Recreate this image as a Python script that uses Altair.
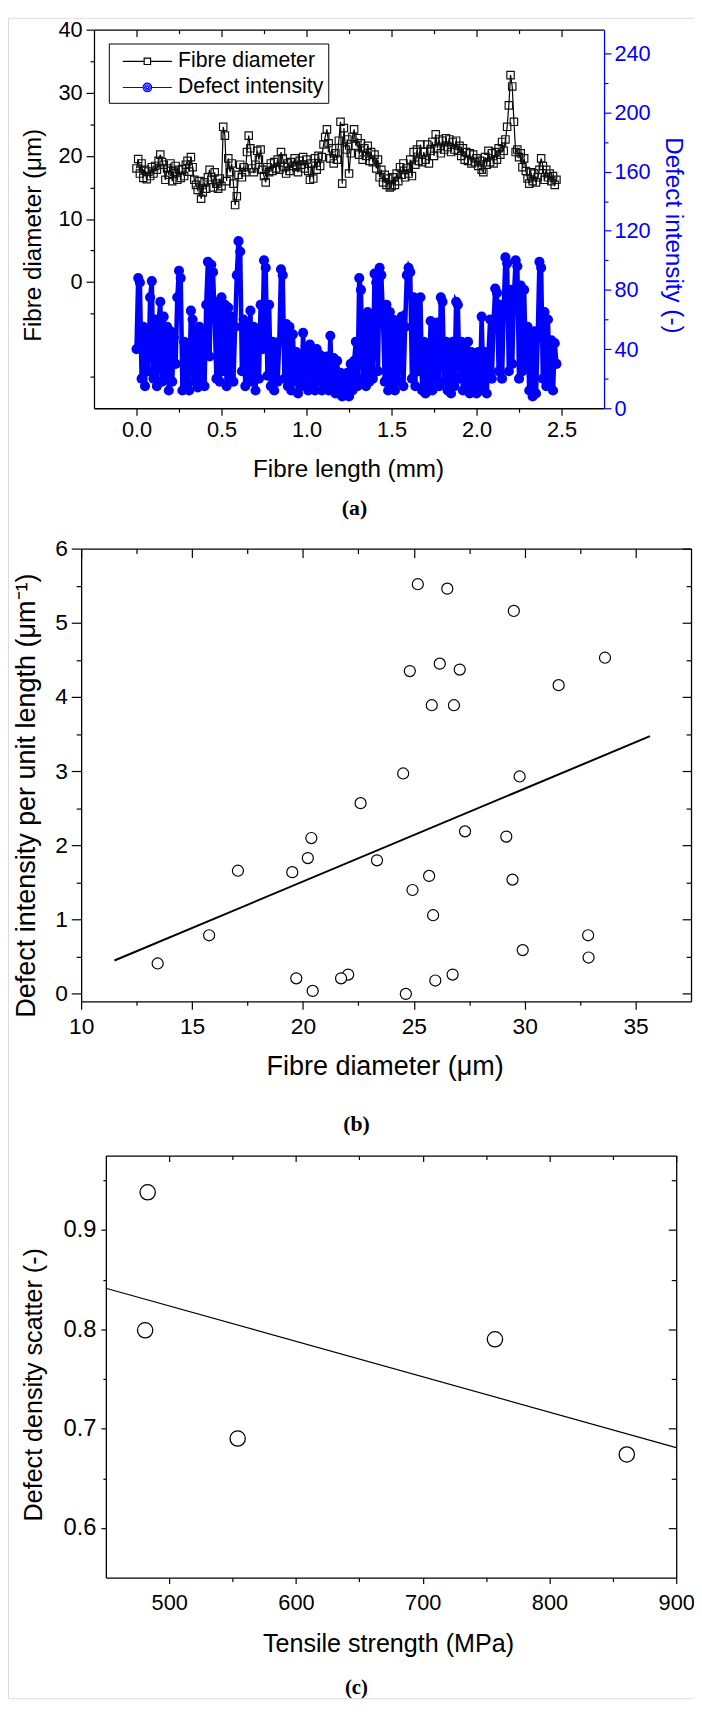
import altair as alt
import pandas as pd

FONT = "Liberation Sans, Arial, Helvetica, sans-serif"
SERIF = "Liberation Serif, Times New Roman, serif"
BLUE = "#0000ff"

# ---------------- panel (a): values sampled every 0.01 mm ----------------
diameter_um = [
    18.0, 19.5, 17.2, 18.8, 16.5, 17.8, 16.3, 17.5, 16.8, 18.2,
    17.2, 18.4, 17.8, 19.2, 20.2, 19.0, 18.6, 16.2, 18.0, 17.0,
    18.8, 16.0, 17.5, 18.4, 16.2, 17.8, 16.5, 17.9, 16.8, 18.6,
    19.2, 17.5, 19.8, 18.2, 16.2, 15.4, 14.6, 16.0, 13.2, 14.2,
    15.8, 14.8, 16.6, 17.8, 16.2, 15.0, 17.4, 15.6, 14.8, 16.4,
    15.2, 24.6, 23.2, 16.0, 19.6, 17.4, 18.8, 15.6, 12.2, 13.6,
    17.0, 18.6, 16.6, 18.2, 17.4, 20.6, 23.2, 21.2, 18.0, 17.4,
    18.6, 20.8, 19.4, 21.0, 17.8, 16.8, 15.8, 18.2, 17.4, 18.8,
    17.6, 19.0, 18.0, 19.4, 17.8, 20.6, 19.6, 18.2, 17.2, 18.8,
    17.6, 19.0, 18.4, 19.6, 18.2, 17.4, 19.2, 18.6, 19.8, 18.0,
    19.4, 17.6, 16.2, 18.8, 16.4, 19.6, 17.8, 20.0, 18.4, 19.8,
    21.8, 23.0, 24.2, 22.0, 19.6, 21.2, 18.8, 20.4, 19.4, 22.4,
    25.4, 15.6, 24.4, 21.0, 22.6, 17.2, 20.4, 23.0, 24.2, 21.6,
    22.8, 20.2, 22.0, 19.4, 21.2, 20.0, 21.6, 19.2, 20.6, 19.0,
    20.2, 18.0, 19.4, 16.6, 17.8, 15.8, 17.0, 15.4, 16.4, 15.0,
    15.2, 16.6, 15.4, 17.2, 16.0, 18.2, 17.0, 18.8, 16.6, 18.0,
    17.2, 19.4, 16.8, 20.6, 18.6, 21.0, 19.2, 21.8, 19.0, 20.6,
    19.4, 21.8, 18.8, 20.8, 22.2, 20.0, 23.4, 21.2, 22.6, 20.4,
    22.4, 21.0, 22.8, 21.4, 22.6, 20.6, 22.2, 21.0, 22.4, 20.8,
    21.6, 20.0, 21.2, 19.4, 20.6, 19.2, 20.4, 18.8, 20.2, 19.0,
    19.6, 18.4, 19.2, 17.8, 17.4, 19.8, 18.6, 20.8, 19.0, 20.4,
    18.8, 20.6, 19.4, 21.2, 20.2, 22.2, 20.8, 22.6, 24.6, 28.0,
    32.8, 31.0, 25.4, 20.6, 21.0, 19.8, 20.4, 18.2, 19.6, 17.6,
    16.4, 15.6, 17.4, 16.0, 17.2, 15.8, 16.6, 17.8, 19.6, 18.4,
    16.2, 17.8, 16.6, 17.2, 16.0, 16.8, 15.4, 16.2,
]
defect_intensity = [
    40, 88, 85, 20, 55, 15, 50, 25, 75, 86,
    20, 60, 15, 58, 72, 18, 62, 22, 55, 12,
    52, 18, 48, 30, 75, 93, 88, 12, 45, 15,
    42, 12, 66, 60, 18, 52, 14, 55, 20, 50,
    15, 70, 99, 35, 97, 92, 60, 20, 72, 18,
    75, 25, 70, 15, 68, 22, 62, 18, 55, 90,
    113, 106, 25, 60, 15, 58, 20, 66, 18, 55,
    12, 52, 20, 70, 40, 100, 95, 22, 70, 15,
    45, 12, 42, 18, 45, 94, 90, 20, 57, 15,
    55, 12, 50, 18, 38, 10, 35, 15, 51, 20,
    40, 12, 43, 15, 38, 12, 40, 18, 36, 12,
    34, 15, 35, 12, 49, 15, 34, 10, 32, 12,
    24, 8, 22, 10, 24, 8, 30, 12, 32, 45,
    15, 88, 80, 20, 62, 15, 65, 18, 60, 20,
    91, 85, 25, 95, 90, 60, 18, 70, 12, 65,
    15, 60, 12, 58, 18, 60, 62, 15, 55, 90,
    95, 92, 20, 75, 15, 72, 25, 75, 12, 45,
    10, 42, 15, 59, 12, 55, 20, 58, 15, 75,
    72, 18, 45, 12, 42, 10, 45, 15, 72, 70,
    20, 45, 12, 42, 15, 45, 10, 38, 15, 36,
    10, 38, 12, 62, 15, 38, 10, 36, 60, 20,
    58, 81, 78, 25, 70, 20, 68, 102, 98, 25,
    80, 30, 76, 100, 96, 20, 83, 25, 80, 30,
    55, 12, 50, 8, 52, 10, 48, 99, 95, 20,
    65, 15, 60, 18, 46, 12, 44, 30,
]
length_mm = [round(i * 0.01, 2) for i in range(len(diameter_um))]
series_names = ["Fibre diameter", "Defect intensity"]

a_x_major = [0.0, 0.5, 1.0, 1.5, 2.0, 2.5]
a_x_minor = [0.25, 0.75, 1.25, 1.75, 2.25]
a_yl_major = [0, 10, 20, 30, 40]
a_yl_minor = [-15, -5, 5, 15, 25, 35]
a_yr_major = [0, 40, 80, 120, 160, 200, 240]
a_yr_minor = [20, 60, 100, 140, 180, 220]

# ---------------- panel (b) ----------------
fibre_diameter_b = [25.18, 26.51, 29.51, 33.62, 26.17, 24.82, 27.07, 31.53, 25.81, 26.81,
                    24.52, 29.77, 22.60, 20.38, 27.31, 29.17, 20.22, 23.34, 17.07, 19.52,
                    25.69, 29.45, 24.94, 25.87, 15.77, 32.86, 29.91, 32.88, 13.45, 19.70,
                    22.04, 21.72, 20.44, 24.64, 25.97, 26.75]
defect_per_length = [5.52, 5.46, 5.16, 4.53, 4.45, 4.35, 4.37, 4.16, 3.89, 3.89,
                     2.97, 2.93, 2.57, 2.10, 2.19, 2.12, 1.83, 1.80, 1.66, 1.64,
                     1.59, 1.54, 1.40, 1.06, 0.79, 0.79, 0.59, 0.49, 0.41, 0.21,
                     0.26, 0.21, 0.04, 0.00, 0.18, 0.26]
b_fit_extent = [11.5, 35.65]
b_x_major = [10, 15, 20, 25, 30, 35]
b_x_minor = [12.5, 17.5, 22.5, 27.5, 32.5]
b_y_major = [0, 1, 2, 3, 4, 5, 6]
b_y_minor = [0.5, 1.5, 2.5, 3.5, 4.5, 5.5]

# ---------------- panel (c) ----------------
tensile_strength = [483, 481, 554, 757, 861]
defect_scatter = [0.938, 0.799, 0.690, 0.790, 0.674]
c_fit_extent = [450, 900]
c_x_major = [500, 600, 700, 800, 900]
c_x_minor = [550, 650, 750, 850]
c_y_major = [0.6, 0.7, 0.8, 0.9]
c_y_minor = [0.65, 0.75, 0.85, 0.95]

# ---------------- layout (one canvas, pixel frames of the three panels) ----------------
CW, CH = 694, 1700
A = dict(L=87, R=603, T=12, B=395)
B = dict(L=74, R=691, T=537, B=995)
C = dict(L=99, R=676, T=1151, B=1578)


def axis(orient, values, size, color="black", domain=False, labels=False, fmt=None,
         label_size=20, label_pad=4, title=None, title_size=22, title_x=None, title_y=None,
         title_angle=None, title_font=FONT, title_weight="normal", offset=None):
    kw = dict(orient=orient, values=values, ticks=size > 0, tickSize=size, tickColor=color,
              tickWidth=1.2, domain=domain, domainColor=color, domainWidth=1.3, grid=False,
              labels=labels, labelColor=color, labelFont=FONT, labelFontSize=label_size,
              labelPadding=label_pad, labelFlush=False, labelOverlap=False,
              title=title, titleColor=color, titleFont=title_font, titleFontSize=title_size,
              titleFontWeight=title_weight, titleAlign="center", titleBaseline="middle")
    if fmt is not None:
        kw["format"] = fmt
    if title_x is not None:
        kw["titleX"] = title_x
    if title_y is not None:
        kw["titleY"] = title_y
    if title_angle is not None:
        kw["titleAngle"] = title_angle
    if offset is not None:
        kw["offset"] = offset
    return alt.Axis(**kw)


def bottom(p):
    return p["B"] - CH


def top(p):
    return p["T"] - CH


def caption(text, p, cx, cy, size=22):
    return axis("bottom", [], 0, title=text, title_x=cx, title_y=cy - p["B"], title_angle=0,
                title_font=SERIF, title_weight="bold", title_size=size, offset=bottom(p))


def sc(dom, rng):
    return alt.Scale(domain=dom, range=rng, nice=False, zero=False)


# ======================= panel (a) =======================
df_a = pd.DataFrame({"length": length_mm, "diameter": diameter_um, "intensity": defect_intensity})


def XA(ax):
    return alt.X("length:Q", scale=sc([-0.25, 2.75], [A["L"], A["R"]]), axis=ax)


def YL(ax):
    return alt.Y("diameter:Q", scale=sc([-20, 40], [A["B"], A["T"]]), axis=ax)


def YR(ax):
    return alt.Y("intensity:Q", scale=sc([0, 256], [A["B"], A["T"]]), axis=ax)


base_a = alt.Chart(df_a)
a_layers = [
    base_a.mark_line(color="black", strokeWidth=1.2).encode(
        x=XA(axis("bottom", a_x_major, 7, domain=True, labels=True, fmt=".1f", label_size=22,
                  label_pad=5, title="Fibre length (mm)", title_size=24.5,
                  title_x=344, title_y=62, offset=bottom(A))),
        y=YL(axis("left", a_yl_major, 8, domain=True, labels=True, fmt="d", label_size=22,
                  label_pad=4, title="Fibre diameter (μm)", title_size=24.5,
                  title_x=25.5 - A["L"], title_y=219.6, offset=-A["L"]))),
    base_a.mark_point(shape="square", filled=False, color="#111111", size=56, strokeWidth=1.2,
                      opacity=1).encode(
        x=XA(caption("(a)", A, 350, 495)), y=YL(None)),
    base_a.mark_line(color=BLUE, strokeWidth=4.6).encode(
        x=XA(axis("bottom", a_x_major, 7, domain=True, offset=top(A))),
        y=YR(axis("right", a_yr_major, 7, color=BLUE, domain=True, labels=True, fmt="d",
                  label_size=22, label_pad=3, title="Defect intensity (-)", title_size=24.5,
                  title_x=672 - A["R"], title_y=219.6, title_angle=90, offset=A["R"] - CW))),
    base_a.mark_circle(color=BLUE, size=105, opacity=1).encode(x=XA(None), y=YR(None)),
    base_a.mark_point(opacity=0).encode(
        x=XA(axis("bottom", a_x_minor, 4, offset=bottom(A))),
        y=YL(axis("left", a_yl_minor, 4, offset=-A["L"]))),
    base_a.mark_point(opacity=0).encode(
        x=XA(axis("bottom", a_x_minor, 4, offset=top(A))),
        y=YR(axis("right", a_yr_minor, 4, color=BLUE, offset=A["R"] - CW))),
]

PATH_SQ = "M-2.07,0H-0.27M0.27,0H2.07M-0.27,-0.27H0.27V0.27H-0.27Z"
PATH_CI = ("M-2.07,0H-0.36M0.36,0H2.07"
           "M0.36,0A0.36,0.36,0,1,1,-0.36,0A0.36,0.36,0,1,1,0.36,0Z"
           "M0.23,0A0.23,0.23,0,1,1,-0.23,0A0.23,0.23,0,1,1,0.23,0Z"
           "M0.1,0A0.1,0.1,0,1,1,-0.1,0A0.1,0.1,0,1,1,0.1,0Z")
leg = alt.Legend(title=None, orient="none", legendX=102, legendY=26, direction="vertical",
                 strokeColor="black", fillColor="white", padding=5, symbolSize=576,
                 symbolStrokeWidth=1.2, symbolOffset=21, labelOffset=18, rowPadding=2.5,
                 labelFont=FONT, labelFontSize=21.5, labelColor="black", labelLimit=400)
df_leg = pd.DataFrame({"series": series_names})
a_layers.append(
    alt.Chart(df_leg).transform_filter("false").mark_point(filled=False, opacity=1).encode(
        color=alt.Color("series:N", scale=alt.Scale(domain=series_names, range=["black", BLUE]),
                        legend=leg),
        shape=alt.Shape("series:N", scale=alt.Scale(domain=series_names, range=[PATH_SQ, PATH_CI]),
                        legend=leg)))

# ======================= panel (b) =======================
df_b = pd.DataFrame({"diam": fibre_diameter_b, "dpl": defect_per_length})


def XB(ax):
    return alt.X("diam:Q", scale=sc([10, 37.5], [B["L"], B["R"]]), axis=ax)


def YB(ax):
    return alt.Y("dpl:Q", scale=sc([-0.1, 6], [B["B"], B["T"]]), axis=ax)


base_b = alt.Chart(df_b)
b_layers = [
    base_b.transform_regression("diam", "dpl", extent=b_fit_extent).mark_line(
        color="black", strokeWidth=2).encode(
        x=XB(axis("bottom", b_x_major, 9, domain=True, offset=top(B))),
        y=YB(axis("left", b_y_major, 9, domain=True, offset=-B["R"]))),
    base_b.mark_point(shape="circle", filled=True, fill="white", stroke="black", size=125,
                      strokeWidth=1.2, opacity=1).encode(
        x=XB(axis("bottom", b_x_major, 8, domain=True, labels=True, fmt="d", label_size=23,
                  label_pad=7, title="Fibre diameter (μm)", title_size=27.3,
                  title_x=381, title_y=66, offset=bottom(B))),
        y=YB(axis("left", b_y_major, 10, domain=True, labels=True, fmt="d", label_size=23,
                  label_pad=4, title="Defect intensity per unit length (μm⁻¹)", title_size=27.3,
                  title_x=18.8 - B["L"], title_y=786.4, offset=-B["L"]))),
    base_b.mark_point(opacity=0).encode(
        x=XB(axis("bottom", b_x_minor, 4, offset=bottom(B))),
        y=YB(axis("left", b_y_minor, 5, offset=-B["L"]))),
    base_b.mark_point(opacity=0).encode(
        x=XB(axis("bottom", b_x_minor, 5, offset=top(B))),
        y=YB(axis("left", b_y_minor, 5, offset=-B["R"]))),
    base_b.mark_point(opacity=0).encode(x=XB(caption("(b)", B, 352, 1119)), y=YB(None)),
]

# ======================= panel (c) =======================
df_c = pd.DataFrame({"ts": tensile_strength, "dds": defect_scatter})


def XC(ax):
    return alt.X("ts:Q", scale=sc([450, 900], [C["L"], C["R"]]), axis=ax)


def YC(ax):
    return alt.Y("dds:Q", scale=sc([0.55, 0.975], [C["B"], C["T"]]), axis=ax)


base_c = alt.Chart(df_c)
c_layers = [
    base_c.transform_regression("ts", "dds", extent=c_fit_extent).mark_line(
        color="black", strokeWidth=1.2).encode(
        x=XC(axis("bottom", c_x_major, 6, domain=True, offset=top(C))),
        y=YC(axis("left", c_y_major, 8, domain=True, offset=-C["R"]))),
    base_c.mark_point(shape="circle", filled=True, fill="white", stroke="black", size=240,
                      strokeWidth=1.3, opacity=1).encode(
        x=XC(axis("bottom", c_x_major, 6, domain=True, labels=True, fmt="d", label_size=22,
                  label_pad=9, title="Tensile strength (MPa)", title_size=25.4,
                  title_x=384.4, title_y=67, offset=bottom(C))),
        y=YC(axis("left", c_y_major, 5, domain=True, labels=True, fmt=".1f", label_size=24,
                  label_pad=5, title="Defect density scatter (-)", title_size=25.4,
                  title_x=25.5 - C["L"], title_y=1382.4, offset=-C["L"]))),
    base_c.mark_point(opacity=0).encode(
        x=XC(axis("bottom", c_x_minor, 4, offset=bottom(C))),
        y=YC(axis("left", c_y_minor, 3, offset=-C["L"]))),
    base_c.mark_point(opacity=0).encode(
        x=XC(axis("bottom", c_x_minor, 4, offset=top(C))),
        y=YC(axis("left", c_y_minor, 5, offset=-C["R"]))),
    base_c.mark_point(opacity=0).encode(x=XC(caption("(c)", C, 352, 1689, 21)), y=YC(None)),
]

chart = alt.layer(*(a_layers + b_layers + c_layers)).resolve_scale(
    x="independent", y="independent", color="independent", shape="independent"
).properties(
    width=CW, height=CH, padding=0, autosize=alt.AutoSizeParams(type="none")
).configure_view(stroke=None).configure(background="white")

chart.save("out.html", embed_options={"renderer": "svg", "actions": False})
